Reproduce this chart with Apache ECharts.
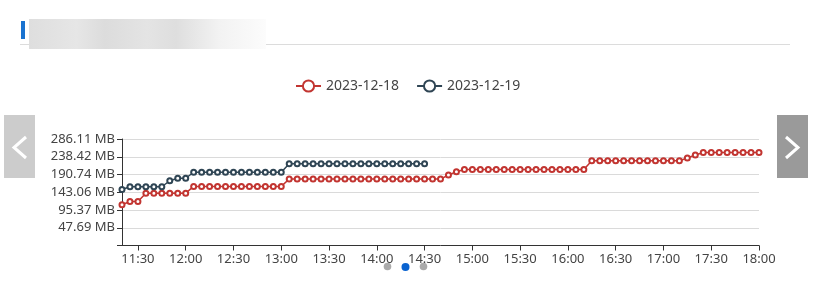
<!DOCTYPE html>
<html><head><meta charset="utf-8">
<script src="https://cdn.jsdelivr.net/npm/echarts@6/dist/echarts.min.js"></script>
<style>html,body{margin:0;padding:0;background:#fff;}#c{width:830px;height:305px;}</style>
</head><body><div id="c"></div>
<script>
var times = ['11:20','11:25','11:30','11:35','11:40','11:45','11:50','11:55','12:00','12:05','12:10','12:15','12:20','12:25','12:30','12:35','12:40','12:45','12:50','12:55','13:00','13:05','13:10','13:15','13:20','13:25','13:30','13:35','13:40','13:45','13:50','13:55','14:00','14:05','14:10','14:15','14:20','14:25','14:30','14:35','14:40','14:45','14:50','14:55','15:00','15:05','15:10','15:15','15:20','15:25','15:30','15:35','15:40','15:45','15:50','15:55','16:00','16:05','16:10','16:15','16:20','16:25','16:30','16:35','16:40','16:45','16:50','16:55','17:00','17:05','17:10','17:15','17:20','17:25','17:30','17:35','17:40','17:45','17:50','17:55','18:00'];
var xTickLabels = ['11:30','12:00','12:30','13:00','13:30','14:00','14:30','15:00','15:30','16:00','16:30','17:00','17:30','18:00'];
var seriesNames = ['2023-12-18','2023-12-19'];
// values in MB
var day18 = [109.4,118.3,118.3,140.6,140.6,140.6,140.6,140.6,140.6,158.7,158.7,158.7,158.7,158.7,158.7,158.7,158.7,158.7,158.7,158.7,158.7,178.5,178.5,178.5,178.5,178.5,178.5,178.5,178.5,178.5,178.5,178.5,178.5,178.5,178.5,178.5,178.5,178.5,178.5,178.5,178.5,189.3,198.2,204.1,204.1,204.1,204.1,204.1,204.1,204.1,204.1,204.1,204.1,204.1,204.1,204.1,204.1,204.1,204.1,227.7,227.7,227.7,227.7,227.7,227.7,227.7,227.7,227.7,227.7,227.7,227.7,235.0,243.0,249.8,249.8,249.8,249.8,249.8,249.8,249.8,249.8];
var day19 = [150.5,157.8,157.8,157.8,157.8,157.8,174.0,180.6,180.6,196.8,196.8,196.8,196.8,196.8,196.8,196.8,196.8,196.8,196.8,196.8,196.8,219.5,219.5,219.5,219.5,219.5,219.5,219.5,219.5,219.5,219.5,219.5,219.5,219.5,219.5,219.5,219.5,219.5,219.5];
var yTickLabels = ['', '47.69 MB', '95.37 MB', '143.06 MB', '190.74 MB', '238.42 MB', '286.11 MB'];
var yStep = 50000000 / 1048576;

var chart = echarts.init(document.getElementById('c'), null, {renderer: 'canvas'});
var font = '"Noto Sans", sans-serif';
var option = {
  backgroundColor: '#fff',
  animation: false,
  color: ['#c23531', '#2f4554'],
  textStyle: {fontFamily: font},
  legend: {
    data: seriesNames,
    left: 290, top: 74,
    itemWidth: 25, itemHeight: 14, itemGap: 17,
    textStyle: {fontSize: 14, color: '#444', fontFamily: font}
  },
  grid: {left: 122, right: 71, top: 139, bottom: 59.5, containLabel: false},
  xAxis: {
    type: 'category', boundaryGap: false, data: times,
    axisLine: {lineStyle: {color: '#333'}},
    axisTick: {interval: function (i, v) { return xTickLabels.indexOf(v) >= 0; }, length: 5},
    axisLabel: {interval: function (i, v) { return xTickLabels.indexOf(v) >= 0; }, color: '#444', fontSize: 13, margin: 7, fontFamily: font},
    splitLine: {show: false}
  },
  yAxis: {
    type: 'value', min: 0, max: yStep * 6, interval: yStep,
    axisLine: {show: true, lineStyle: {color: '#333'}},
    axisTick: {show: true, length: 5},
    axisLabel: {color: '#444', fontSize: 13, margin: 7, fontFamily: font,
      formatter: function (v) { return yTickLabels[Math.round(v / yStep)] || ''; }},
    splitLine: {lineStyle: {color: '#dadada', width: 1}}
  },
  series: [
    {name: seriesNames[0], type: 'line', data: day18, symbol: 'emptyCircle', symbolSize: 5, showAllSymbol: true,
      lineStyle: {width: 1.5}, itemStyle: {borderWidth: 1}},
    {name: seriesNames[1], type: 'line', data: day19, symbol: 'emptyCircle', symbolSize: 5, showAllSymbol: true,
      lineStyle: {width: 1.5}, itemStyle: {borderWidth: 1}}
  ],
  graphic: [
    {type: 'rect', shape: {x: 20, y: 44, width: 770, height: 1}, style: {fill: '#dcdcdc'}, silent: true},
    {type: 'rect', shape: {x: 21, y: 21, width: 4, height: 18}, style: {fill: '#1a73d0'}, silent: true},
    {type: 'rect', shape: {x: 29, y: 19, width: 237, height: 30},
      style: {fill: new echarts.graphic.LinearGradient(0, 0, 1, 0, [
        {offset: 0, color: '#dedede'}, {offset: 0.2, color: '#e6e6e6'}, {offset: 0.32, color: '#dcdcdc'},
        {offset: 0.5, color: '#e4e4e4'}, {offset: 0.62, color: '#dedede'}, {offset: 0.8, color: '#f2f2f2'}, {offset: 1, color: '#fcfcfc'}])}, silent: true},
    {type: 'rect', shape: {x: 4, y: 115, width: 31, height: 63}, style: {fill: '#cccccc'}, silent: true},
    {type: 'polyline', shape: {points: [[26, 137], [14, 147.5], [26, 158]]}, style: {stroke: '#fff', lineWidth: 3, fill: null}, silent: true},
    {type: 'rect', shape: {x: 777, y: 115, width: 31, height: 63}, style: {fill: '#9a9a9a'}, silent: true},
    {type: 'polyline', shape: {points: [[786, 137], [798, 147.5], [786, 158]]}, style: {stroke: '#fff', lineWidth: 3, fill: null}, silent: true},
    {type: 'circle', shape: {cx: 387.5, cy: 266.5, r: 3.8}, style: {fill: '#aaaaaa'}, silent: true},
    {type: 'circle', shape: {cx: 405.5, cy: 267, r: 4}, style: {fill: '#0a63d0'}, silent: true},
    {type: 'circle', shape: {cx: 423.5, cy: 266.5, r: 3.8}, style: {fill: '#aaaaaa'}, silent: true}
  ]
};
chart.setOption(option);
</script>
</body></html>
